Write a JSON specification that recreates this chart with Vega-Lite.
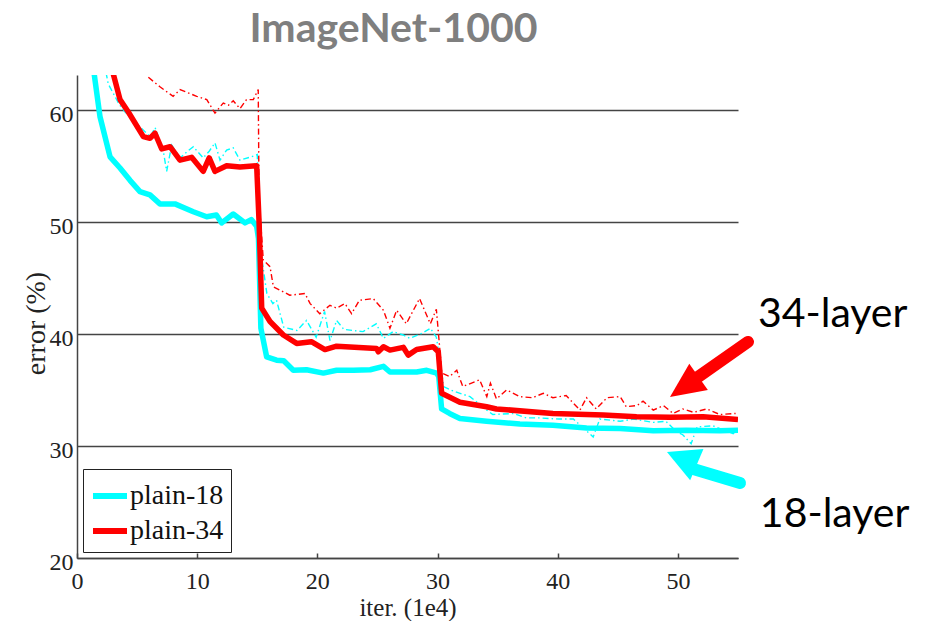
{
  "$schema": "https://vega.github.io/schema/vega-lite/v6.json",
  "autosize": {"type": "none"},
  "padding": {"left": 77, "top": 75, "right": 189, "bottom": 63},
  "width": 661,
  "height": 483,
  "background": "white",
  "title": {
    "text": "ImageNet-1000",
    "font": "Lato",
    "fontSize": 41,
    "fontWeight": "bold",
    "color": "#7f7f7f",
    "anchor": "middle",
    "frame": "group",
    "baseline": "alphabetic",
    "offset": -8,
    "dx": -14
  },
  "datasets": {
    "train": [
      {"model": "plain-18", "iter": 2.2, "error": 64.5},
      {"model": "plain-18", "iter": 2.6, "error": 62.3},
      {"model": "plain-18", "iter": 3.5, "error": 60.5},
      {"model": "plain-18", "iter": 4.0, "error": 59.8},
      {"model": "plain-18", "iter": 5.2, "error": 58.5},
      {"model": "plain-18", "iter": 6.1, "error": 57.6},
      {"model": "plain-18", "iter": 6.5, "error": 58.4},
      {"model": "plain-18", "iter": 7.2, "error": 56.2},
      {"model": "plain-18", "iter": 7.46, "error": 54.5},
      {"model": "plain-18", "iter": 7.88, "error": 56.85},
      {"model": "plain-18", "iter": 8.57, "error": 55.7},
      {"model": "plain-18", "iter": 9.2, "error": 56.3},
      {"model": "plain-18", "iter": 9.68, "error": 56.7},
      {"model": "plain-18", "iter": 10.5, "error": 55.7},
      {"model": "plain-18", "iter": 11.0, "error": 56.3},
      {"model": "plain-18", "iter": 11.48, "error": 57.05},
      {"model": "plain-18", "iter": 11.9, "error": 55.5},
      {"model": "plain-18", "iter": 12.45, "error": 56.4},
      {"model": "plain-18", "iter": 13.0, "error": 56.6},
      {"model": "plain-18", "iter": 13.56, "error": 55.5},
      {"model": "plain-18", "iter": 14.5, "error": 55.8},
      {"model": "plain-18", "iter": 15.0, "error": 56.0},
      {"model": "plain-18", "iter": 15.2, "error": 48.0},
      {"model": "plain-18", "iter": 15.8, "error": 43.6},
      {"model": "plain-18", "iter": 16.3, "error": 42.7},
      {"model": "plain-18", "iter": 16.6, "error": 43.0},
      {"model": "plain-18", "iter": 17.2, "error": 40.6},
      {"model": "plain-18", "iter": 18.3, "error": 40.3},
      {"model": "plain-18", "iter": 19.1, "error": 41.2},
      {"model": "plain-18", "iter": 19.9, "error": 39.7},
      {"model": "plain-18", "iter": 20.6, "error": 42.0},
      {"model": "plain-18", "iter": 21.05, "error": 39.4},
      {"model": "plain-18", "iter": 21.6, "error": 41.2},
      {"model": "plain-18", "iter": 22.2, "error": 40.4},
      {"model": "plain-18", "iter": 23.8, "error": 40.2},
      {"model": "plain-18", "iter": 24.9, "error": 40.9},
      {"model": "plain-18", "iter": 25.5, "error": 39.6},
      {"model": "plain-18", "iter": 26.3, "error": 40.2},
      {"model": "plain-18", "iter": 27.15, "error": 39.9},
      {"model": "plain-18", "iter": 27.7, "error": 39.6},
      {"model": "plain-18", "iter": 28.8, "error": 40.1},
      {"model": "plain-18", "iter": 29.4, "error": 40.5},
      {"model": "plain-18", "iter": 29.9, "error": 39.7},
      {"model": "plain-18", "iter": 30.3, "error": 37.0},
      {"model": "plain-18", "iter": 30.5, "error": 35.3},
      {"model": "plain-18", "iter": 31.3, "error": 34.9},
      {"model": "plain-18", "iter": 32.7, "error": 34.4},
      {"model": "plain-18", "iter": 34.1, "error": 33.2},
      {"model": "plain-18", "iter": 34.6, "error": 32.8},
      {"model": "plain-18", "iter": 36.3, "error": 32.9},
      {"model": "plain-18", "iter": 37.4, "error": 32.5},
      {"model": "plain-18", "iter": 38.5, "error": 32.5},
      {"model": "plain-18", "iter": 40.1, "error": 32.4},
      {"model": "plain-18", "iter": 41.3, "error": 32.4},
      {"model": "plain-18", "iter": 42.95, "error": 30.8},
      {"model": "plain-18", "iter": 43.5, "error": 32.4},
      {"model": "plain-18", "iter": 45.2, "error": 32.2},
      {"model": "plain-18", "iter": 46.3, "error": 32.4},
      {"model": "plain-18", "iter": 47.95, "error": 32.1},
      {"model": "plain-18", "iter": 49.0, "error": 32.2},
      {"model": "plain-18", "iter": 49.9, "error": 31.25},
      {"model": "plain-18", "iter": 50.4, "error": 31.0},
      {"model": "plain-18", "iter": 51.1, "error": 30.2},
      {"model": "plain-18", "iter": 51.6, "error": 31.7},
      {"model": "plain-18", "iter": 52.9, "error": 31.8},
      {"model": "plain-18", "iter": 54.6, "error": 31.1},
      {"model": "plain-18", "iter": 55.0, "error": 31.5},
      {"model": "plain-34", "iter": 5.5, "error": 64.0},
      {"model": "plain-34", "iter": 5.93, "error": 62.9},
      {"model": "plain-34", "iter": 6.9, "error": 62.05},
      {"model": "plain-34", "iter": 8.0, "error": 61.2},
      {"model": "plain-34", "iter": 8.57, "error": 61.8},
      {"model": "plain-34", "iter": 9.96, "error": 61.2},
      {"model": "plain-34", "iter": 10.8, "error": 60.9},
      {"model": "plain-34", "iter": 11.48, "error": 59.7},
      {"model": "plain-34", "iter": 12.17, "error": 60.6},
      {"model": "plain-34", "iter": 12.6, "error": 60.4},
      {"model": "plain-34", "iter": 13.0, "error": 60.8},
      {"model": "plain-34", "iter": 13.56, "error": 60.1},
      {"model": "plain-34", "iter": 14.1, "error": 60.9},
      {"model": "plain-34", "iter": 14.67, "error": 60.9},
      {"model": "plain-34", "iter": 15.08, "error": 61.8},
      {"model": "plain-34", "iter": 15.15, "error": 52.0},
      {"model": "plain-34", "iter": 15.5, "error": 46.6},
      {"model": "plain-34", "iter": 16.06, "error": 46.0},
      {"model": "plain-34", "iter": 16.34, "error": 44.2},
      {"model": "plain-34", "iter": 16.9, "error": 43.9},
      {"model": "plain-34", "iter": 17.7, "error": 43.45},
      {"model": "plain-34", "iter": 18.97, "error": 43.6},
      {"model": "plain-34", "iter": 19.4, "error": 42.7},
      {"model": "plain-34", "iter": 20.2, "error": 41.8},
      {"model": "plain-34", "iter": 21.05, "error": 42.55},
      {"model": "plain-34", "iter": 21.6, "error": 42.3},
      {"model": "plain-34", "iter": 22.3, "error": 42.7},
      {"model": "plain-34", "iter": 22.85, "error": 41.8},
      {"model": "plain-34", "iter": 23.5, "error": 43.0},
      {"model": "plain-34", "iter": 24.65, "error": 43.15},
      {"model": "plain-34", "iter": 25.5, "error": 42.1},
      {"model": "plain-34", "iter": 26.04, "error": 40.5},
      {"model": "plain-34", "iter": 26.6, "error": 42.1},
      {"model": "plain-34", "iter": 27.4, "error": 40.9},
      {"model": "plain-34", "iter": 28.5, "error": 43.15},
      {"model": "plain-34", "iter": 29.4, "error": 40.9},
      {"model": "plain-34", "iter": 29.9, "error": 42.2},
      {"model": "plain-34", "iter": 30.2, "error": 38.5},
      {"model": "plain-34", "iter": 30.35, "error": 36.5},
      {"model": "plain-34", "iter": 31.0, "error": 36.2},
      {"model": "plain-34", "iter": 31.6, "error": 36.75},
      {"model": "plain-34", "iter": 32.1, "error": 35.3},
      {"model": "plain-34", "iter": 33.5, "error": 35.9},
      {"model": "plain-34", "iter": 34.1, "error": 34.4},
      {"model": "plain-34", "iter": 34.4, "error": 35.6},
      {"model": "plain-34", "iter": 34.9, "error": 34.2},
      {"model": "plain-34", "iter": 35.75, "error": 35.0},
      {"model": "plain-34", "iter": 36.85, "error": 34.4},
      {"model": "plain-34", "iter": 37.9, "error": 34.3},
      {"model": "plain-34", "iter": 38.8, "error": 34.7},
      {"model": "plain-34", "iter": 39.6, "error": 34.3},
      {"model": "plain-34", "iter": 40.7, "error": 34.5},
      {"model": "plain-34", "iter": 41.85, "error": 33.2},
      {"model": "plain-34", "iter": 42.4, "error": 34.3},
      {"model": "plain-34", "iter": 43.2, "error": 33.3},
      {"model": "plain-34", "iter": 44.1, "error": 34.3},
      {"model": "plain-34", "iter": 45.2, "error": 34.4},
      {"model": "plain-34", "iter": 45.7, "error": 33.5},
      {"model": "plain-34", "iter": 46.6, "error": 33.6},
      {"model": "plain-34", "iter": 47.1, "error": 34.0},
      {"model": "plain-34", "iter": 47.95, "error": 33.2},
      {"model": "plain-34", "iter": 48.8, "error": 33.6},
      {"model": "plain-34", "iter": 49.6, "error": 32.9},
      {"model": "plain-34", "iter": 50.4, "error": 33.3},
      {"model": "plain-34", "iter": 51.3, "error": 33.0},
      {"model": "plain-34", "iter": 52.4, "error": 33.3},
      {"model": "plain-34", "iter": 53.5, "error": 32.8},
      {"model": "plain-34", "iter": 54.8, "error": 32.9}
    ],
    "val": [
      {"model": "plain-18", "iter": 1.2, "error": 65.0},
      {"model": "plain-18", "iter": 1.91, "error": 59.4},
      {"model": "plain-18", "iter": 2.75, "error": 55.8},
      {"model": "plain-18", "iter": 3.58, "error": 54.8},
      {"model": "plain-18", "iter": 4.41, "error": 53.7},
      {"model": "plain-18", "iter": 5.24, "error": 52.7},
      {"model": "plain-18", "iter": 6.07, "error": 52.4},
      {"model": "plain-18", "iter": 6.9, "error": 51.6},
      {"model": "plain-18", "iter": 8.15, "error": 51.6},
      {"model": "plain-18", "iter": 9.68, "error": 50.9},
      {"model": "plain-18", "iter": 10.79, "error": 50.45},
      {"model": "plain-18", "iter": 11.6, "error": 50.6},
      {"model": "plain-18", "iter": 12.04, "error": 49.9},
      {"model": "plain-18", "iter": 13.0, "error": 50.7},
      {"model": "plain-18", "iter": 13.98, "error": 49.9},
      {"model": "plain-18", "iter": 14.5, "error": 50.2},
      {"model": "plain-18", "iter": 14.95, "error": 49.6},
      {"model": "plain-18", "iter": 15.1, "error": 48.5},
      {"model": "plain-18", "iter": 15.3, "error": 40.5},
      {"model": "plain-18", "iter": 15.78, "error": 37.95},
      {"model": "plain-18", "iter": 16.61, "error": 37.65},
      {"model": "plain-18", "iter": 17.2, "error": 37.6},
      {"model": "plain-18", "iter": 18.0, "error": 36.75},
      {"model": "plain-18", "iter": 19.1, "error": 36.8},
      {"model": "plain-18", "iter": 20.5, "error": 36.5},
      {"model": "plain-18", "iter": 21.6, "error": 36.75},
      {"model": "plain-18", "iter": 23.0, "error": 36.75},
      {"model": "plain-18", "iter": 24.4, "error": 36.8},
      {"model": "plain-18", "iter": 25.5, "error": 37.1},
      {"model": "plain-18", "iter": 26.04, "error": 36.6},
      {"model": "plain-18", "iter": 28.26, "error": 36.6},
      {"model": "plain-18", "iter": 29.1, "error": 36.75},
      {"model": "plain-18", "iter": 29.93, "error": 36.5},
      {"model": "plain-18", "iter": 30.1, "error": 36.2},
      {"model": "plain-18", "iter": 30.34, "error": 33.3},
      {"model": "plain-18", "iter": 31.0, "error": 32.9},
      {"model": "plain-18", "iter": 31.86, "error": 32.45},
      {"model": "plain-18", "iter": 34.08, "error": 32.2},
      {"model": "plain-18", "iter": 36.85, "error": 31.95},
      {"model": "plain-18", "iter": 39.6, "error": 31.85},
      {"model": "plain-18", "iter": 42.4, "error": 31.6},
      {"model": "plain-18", "iter": 45.2, "error": 31.55},
      {"model": "plain-18", "iter": 47.95, "error": 31.35},
      {"model": "plain-18", "iter": 50.7, "error": 31.4},
      {"model": "plain-18", "iter": 53.5, "error": 31.35},
      {"model": "plain-18", "iter": 55.0, "error": 31.4},
      {"model": "plain-34", "iter": 2.7, "error": 64.5},
      {"model": "plain-34", "iter": 3.58, "error": 60.9},
      {"model": "plain-34", "iter": 4.27, "error": 59.8},
      {"model": "plain-34", "iter": 5.52, "error": 57.6},
      {"model": "plain-34", "iter": 6.07, "error": 57.45},
      {"model": "plain-34", "iter": 6.49, "error": 57.9},
      {"model": "plain-34", "iter": 7.05, "error": 56.5},
      {"model": "plain-34", "iter": 7.74, "error": 56.7},
      {"model": "plain-34", "iter": 8.57, "error": 55.5},
      {"model": "plain-34", "iter": 9.54, "error": 55.75},
      {"model": "plain-34", "iter": 10.5, "error": 54.5},
      {"model": "plain-34", "iter": 11.0, "error": 55.7},
      {"model": "plain-34", "iter": 11.48, "error": 54.5},
      {"model": "plain-34", "iter": 12.45, "error": 55.0},
      {"model": "plain-34", "iter": 13.56, "error": 54.9},
      {"model": "plain-34", "iter": 14.95, "error": 55.0},
      {"model": "plain-34", "iter": 15.15, "error": 50.0},
      {"model": "plain-34", "iter": 15.37, "error": 42.3},
      {"model": "plain-34", "iter": 16.06, "error": 41.1},
      {"model": "plain-34", "iter": 17.17, "error": 39.9},
      {"model": "plain-34", "iter": 18.28, "error": 39.15},
      {"model": "plain-34", "iter": 19.5, "error": 39.3},
      {"model": "plain-34", "iter": 20.63, "error": 38.6},
      {"model": "plain-34", "iter": 21.6, "error": 38.9},
      {"model": "plain-34", "iter": 24.93, "error": 38.7},
      {"model": "plain-34", "iter": 25.07, "error": 38.4},
      {"model": "plain-34", "iter": 25.5, "error": 38.85},
      {"model": "plain-34", "iter": 26.04, "error": 38.55},
      {"model": "plain-34", "iter": 27.15, "error": 38.8},
      {"model": "plain-34", "iter": 27.56, "error": 38.1},
      {"model": "plain-34", "iter": 28.26, "error": 38.6},
      {"model": "plain-34", "iter": 29.64, "error": 38.85},
      {"model": "plain-34", "iter": 30.06, "error": 38.4},
      {"model": "plain-34", "iter": 30.34, "error": 34.7},
      {"model": "plain-34", "iter": 31.86, "error": 33.9},
      {"model": "plain-34", "iter": 34.08, "error": 33.5},
      {"model": "plain-34", "iter": 34.9, "error": 33.3},
      {"model": "plain-34", "iter": 39.6, "error": 32.9},
      {"model": "plain-34", "iter": 43.8, "error": 32.75},
      {"model": "plain-34", "iter": 46.56, "error": 32.6},
      {"model": "plain-34", "iter": 49.33, "error": 32.55},
      {"model": "plain-34", "iter": 52.1, "error": 32.6},
      {"model": "plain-34", "iter": 55.0, "error": 32.35}
    ],
    "shafts": [
      {"model": "plain-34", "iter": 55.83, "error": 39.28, "iter2": 50.84, "error2": 35.53},
      {"model": "plain-18", "iter": 55.17, "error": 26.69, "iter2": 51.0, "error2": 28.03}
    ],
    "notes": [
      {"label": "34-layer", "iter": 56.66, "error": 40.63},
      {"label": "18-layer", "iter": 56.82, "error": 22.77}
    ]
  },
  "layer": [
    {
      "data": {"name": "train"},
      "mark": {"type": "line", "clip": true, "strokeWidth": 1.4, "strokeDash": [6, 3, 1.5, 3]},
      "encoding": {
        "x": {
          "field": "iter", "type": "quantitative",
          "scale": {"domain": [0, 55], "nice": false, "zero": false},
          "axis": {
            "values": [0, 10, 20, 30, 40, 50],
            "title": "iter. (1e4)",
            "titleFont": "Liberation Serif", "titleFontSize": 25, "titleFontWeight": "normal",
            "titleColor": "#222", "titleBaseline": "alphabetic", "titleY": 57,
            "labelFont": "Liberation Serif", "labelFontSize": 24, "labelColor": "#222",
            "labelBaseline": "alphabetic", "labelPadding": 35, "labelOverlap": false, "labelFlush": false,
            "tickSize": -5, "tickColor": "#444", "tickWidth": 1.5,
            "domainColor": "#444", "domainWidth": 1.5, "grid": false
          }
        },
        "y": {
          "field": "error", "type": "quantitative",
          "scale": {"domain": [20, 63.1], "nice": false, "zero": false},
          "axis": {
            "values": [20, 30, 40, 50, 60],
            "title": "error (%)",
            "titleFont": "Liberation Serif", "titleFontSize": 28, "titleFontWeight": "normal",
            "titleColor": "#222", "titleBaseline": "alphabetic", "titleAngle": 270,
            "titleX": -33, "titleY": 248, "titleAlign": "center",
            "labelFont": "Liberation Serif", "labelFontSize": 24, "labelColor": "#222",
            "labelBaseline": "alphabetic", "labelOffset": 11.5, "labelPadding": 4, "labelOverlap": false, "labelFlush": false,
            "ticks": false,
            "domainColor": "#444", "domainWidth": 1.5,
            "grid": true, "gridColor": "#444", "gridWidth": 1.5
          }
        },
        "stroke": {
          "field": "model", "type": "nominal",
          "scale": {"domain": ["plain-34", "plain-18"], "range": ["#FF0000", "#00FFFF"]},
          "legend": null
        }
      }
    },
    {
      "data": {"name": "val"},
      "mark": {"type": "line", "clip": true, "strokeWidth": 5.5, "strokeJoin": "round"},
      "encoding": {
        "x": {"field": "iter", "type": "quantitative"},
        "y": {"field": "error", "type": "quantitative"},
        "color": {
          "field": "model", "type": "nominal",
          "scale": {"domain": ["plain-18", "plain-34"], "range": ["#00FFFF", "#FF0000"]},
          "legend": {
            "title": null,
            "orient": "none", "legendX": 6, "legendY": 394,
            "strokeColor": "#222", "fillColor": "white", "padding": 7,
            "symbolType": "stroke", "symbolStrokeWidth": 6, "symbolSize": 1156,
            "labelFont": "Liberation Serif", "labelFontSize": 28, "labelColor": "#111",
            "labelOffset": 0, "rowPadding": 1
          }
        }
      }
    },
    {
      "data": {"name": "shafts"},
      "mark": {"type": "rule", "strokeWidth": 12, "strokeCap": "round", "clip": false},
      "encoding": {
        "x": {"field": "iter", "type": "quantitative"},
        "y": {"field": "error", "type": "quantitative"},
        "x2": {"field": "iter2"},
        "y2": {"field": "error2"},
        "stroke": {"field": "model", "type": "nominal", "legend": null}
      }
    },
    {
      "data": {"values": [{"iter": 49.34, "error": 34.37}]},
      "mark": {"type": "point", "shape": "M0,0 L0.92,2 L-0.92,2 Z", "filled": true, "opacity": 1, "color": "#FF0000", "size": 1225, "angle": 234.8, "clip": false},
      "encoding": {
        "x": {"field": "iter", "type": "quantitative"},
        "y": {"field": "error", "type": "quantitative"}
      }
    },
    {
      "data": {"values": [{"iter": 49.09, "error": 29.46}]},
      "mark": {"type": "point", "shape": "M0,0 L1.05,2 L-1.05,2 Z", "filled": true, "opacity": 1, "color": "#00FFFF", "size": 1050, "angle": 293, "clip": false},
      "encoding": {
        "x": {"field": "iter", "type": "quantitative"},
        "y": {"field": "error", "type": "quantitative"}
      }
    },
    {
      "data": {"name": "notes"},
      "mark": {"type": "text", "align": "left", "baseline": "alphabetic", "font": "Lato", "fontSize": 41, "color": "#000", "clip": false},
      "encoding": {
        "x": {"field": "iter", "type": "quantitative"},
        "y": {"field": "error", "type": "quantitative"},
        "text": {"field": "label"}
      }
    }
  ],
  "config": {
    "font": "Liberation Serif",
    "view": {"stroke": null},
    "legend": {"labelFont": "Liberation Serif", "labelFontSize": 28},
    "style": {"guide-label": {"font": "Liberation Serif"}}
  }
}
